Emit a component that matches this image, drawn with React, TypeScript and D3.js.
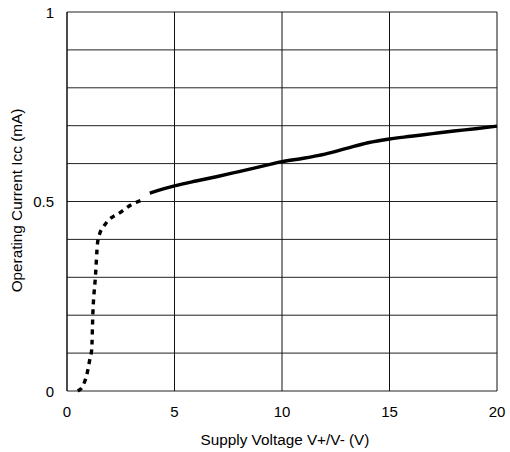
import React from "react";
import * as d3 from "d3";

const dottedV = [0.5, 0.75, 0.95, 1.05, 1.15, 1.2, 1.32, 1.42, 1.52, 1.68, 1.92, 2.45, 2.95, 3.55];
const dottedI = [0, 0.015, 0.05, 0.08, 0.11, 0.2, 0.3, 0.39, 0.415, 0.432, 0.45, 0.47, 0.49, 0.505];
const solidV = [3.85, 5, 6, 7, 8, 9, 10, 11, 12, 13, 14, 15, 16, 17, 18, 19, 20];
const solidI = [0.522, 0.541, 0.554, 0.566, 0.579, 0.592, 0.605, 0.614, 0.625, 0.64, 0.655, 0.665, 0.672, 0.679, 0.686, 0.692, 0.699];
const xTicks = [0, 5, 10, 15, 20];
const yTicks = [0, 0.5, 1];
const yGrid = [0, 0.1, 0.2, 0.3, 0.4, 0.5, 0.6, 0.7, 0.8, 0.9, 1];

export default function App() {
  const W = 510, H = 452;
  const x = d3.scaleLinear().domain([0, 20]).range([67, 497]);
  const y = d3.scaleLinear().domain([0, 1]).range([391, 12]);
  const line = d3
    .line<[number, number]>()
    .x((d) => x(d[0]))
    .y((d) => y(d[1]))
    .curve(d3.curveMonotoneX);
  const dotted = dottedV.map((v, i) => [v, dottedI[i]] as [number, number]);
  const solid = solidV.map((v, i) => [v, solidI[i]] as [number, number]);
  const font = "Liberation Sans, Arial, sans-serif";
  return (
    <svg width={W} height={H} style={{ position: "absolute", left: 0, top: 0, background: "#fff" }}>
      <rect x={0} y={0} width={W} height={H} fill="#fff" />
      {yGrid.map((t) => (
        <line key={"h" + t} x1={x(0)} x2={x(20)} y1={y(t)} y2={y(t)} stroke="#222" strokeWidth={1} />
      ))}
      {xTicks.map((t) => (
        <line key={"v" + t} x1={x(t)} x2={x(t)} y1={y(0)} y2={y(1)} stroke="#111" strokeWidth={t === 0 ? 1.5 : 1} />
      ))}
      <path d={line(dotted) || ""} fill="none" stroke="#000" strokeWidth={3.4} strokeDasharray="5,5" />
      <path d={line(solid) || ""} fill="none" stroke="#000" strokeWidth={3.4} />
      {yTicks.map((t) => (
        <text key={"yt" + t} x={54} y={y(t) + 5.5} textAnchor="end" fontFamily={font} fontSize={15} fill="#000">
          {t}
        </text>
      ))}
      {xTicks.map((t) => (
        <text key={"xt" + t} x={x(t)} y={417} textAnchor="middle" fontFamily={font} fontSize={15} fill="#000">
          {t}
        </text>
      ))}
      <text x={285} y={445} textAnchor="middle" fontFamily={font} fontSize={15.3} fill="#000">
        Supply Voltage V+/V- (V)
      </text>
      <text
        transform={`translate(22, 200.5) rotate(-90)`}
        textAnchor="middle"
        fontFamily={font}
        fontSize={15.3}
        fill="#000"
      >
        Operating Current Icc (mA)
      </text>
    </svg>
  );
}
